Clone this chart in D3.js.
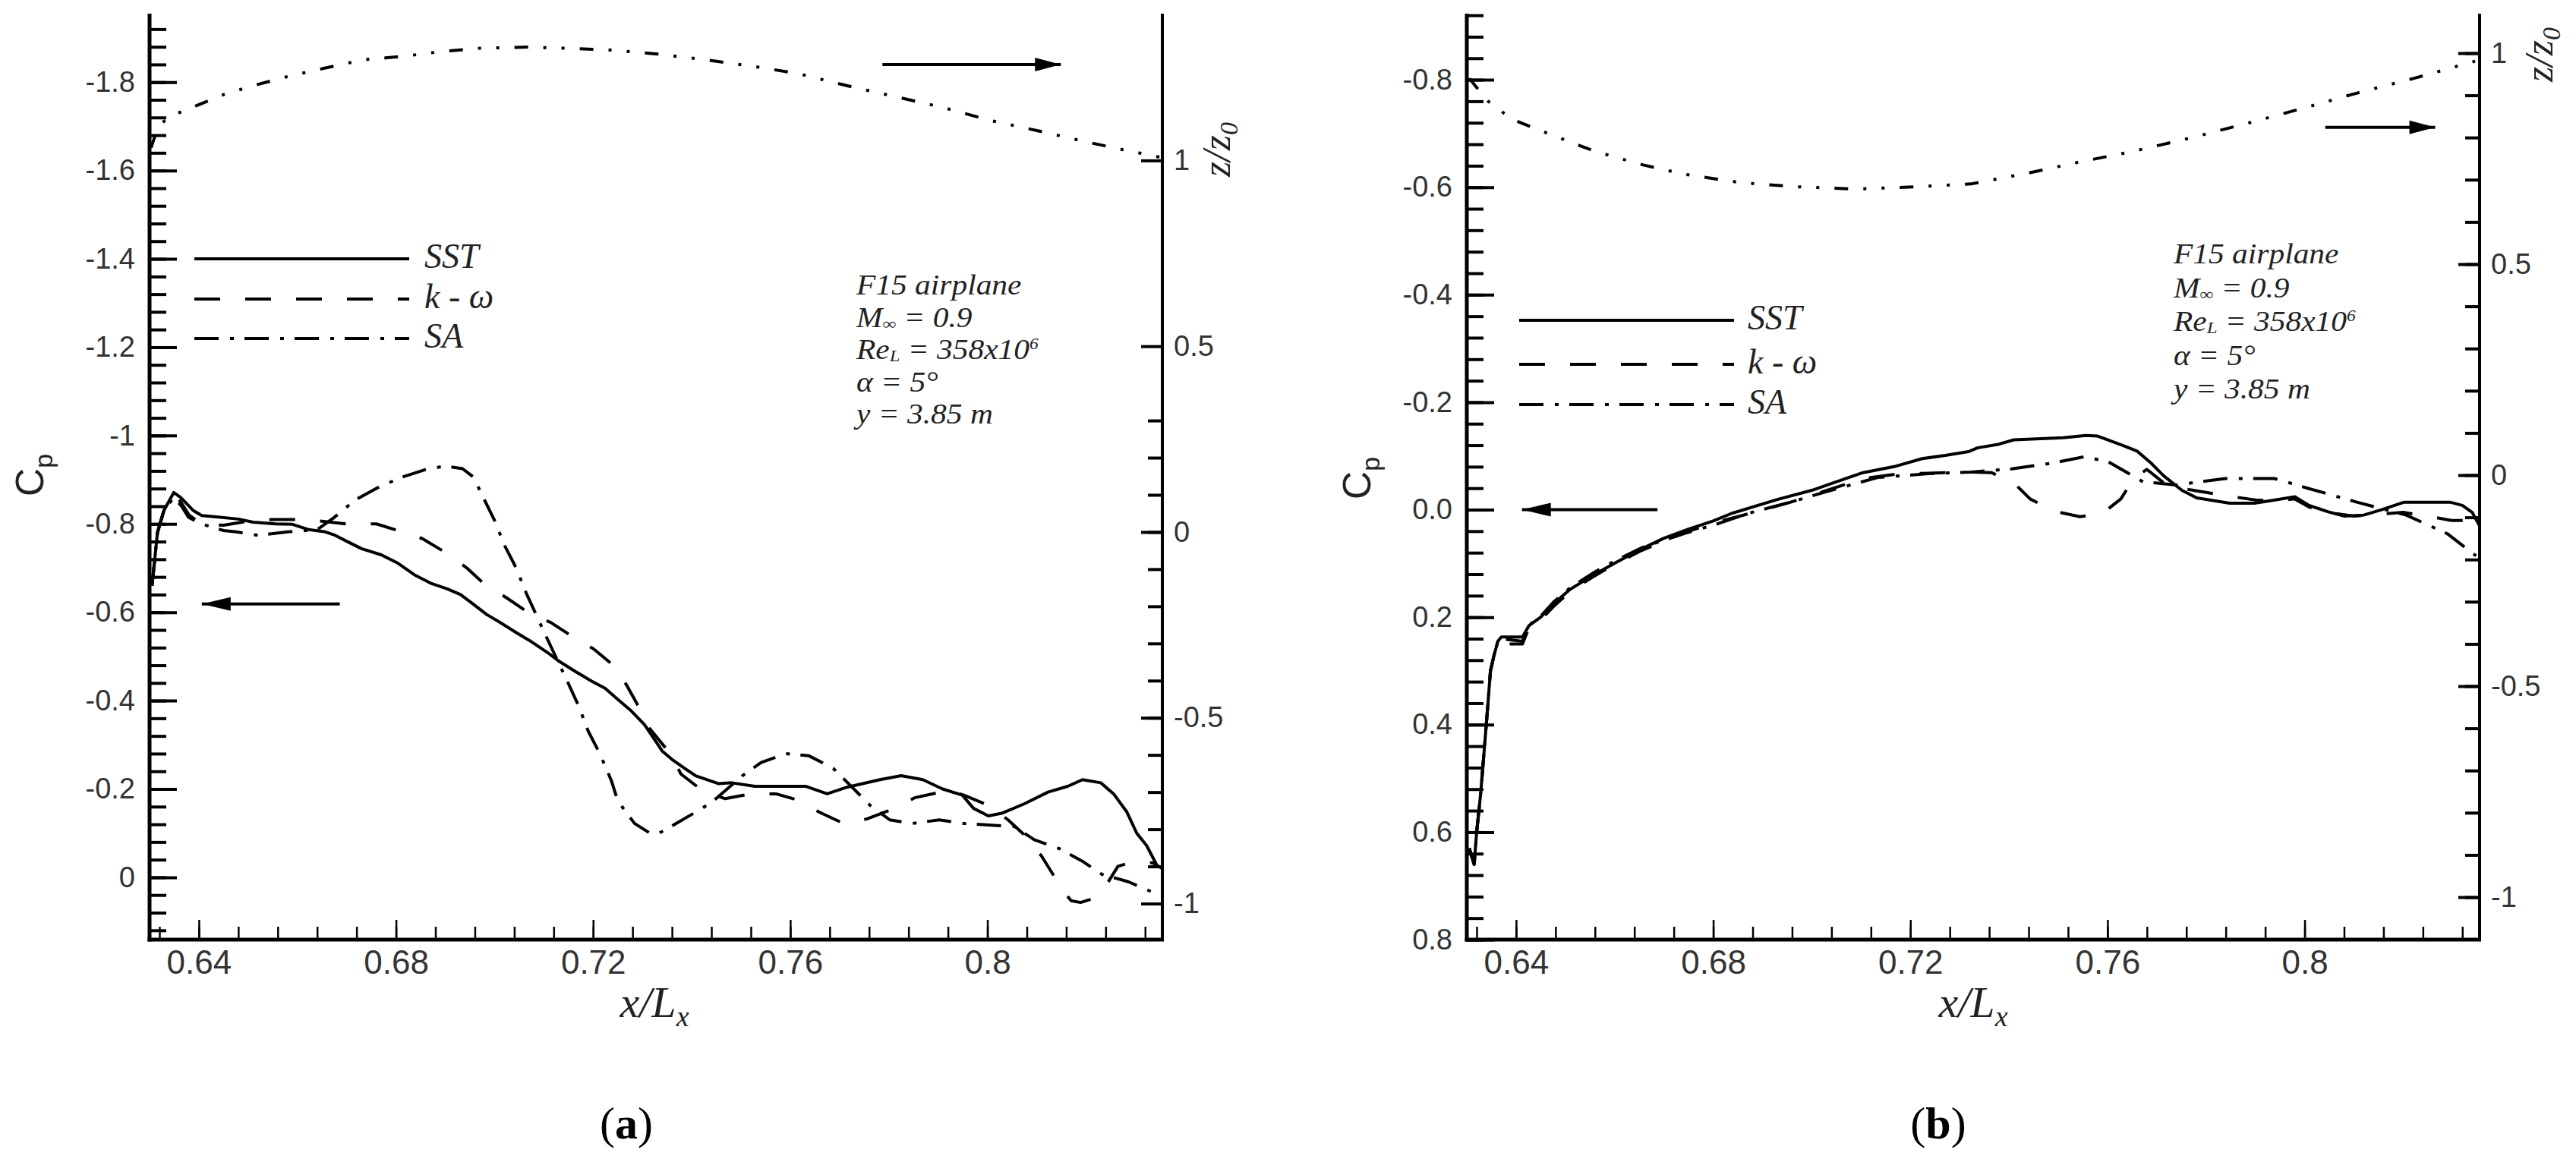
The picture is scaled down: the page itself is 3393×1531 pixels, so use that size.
<!DOCTYPE html>
<html>
<head>
<meta charset="utf-8">
<script src="https://cdn.jsdelivr.net/npm/d3@7"></script>
<style>
html, body { margin: 0; padding: 0; background: #fff; }
svg { display: block; }
.ital { font-family: "Liberation Serif", "Times New Roman", serif; font-style: italic; }
</style>
</head>
<body>
<svg id="chart" width="3393" height="1531"></svg>
<script>
/* TICKS AND LABELS */
var xTicks = [0.64, 0.68, 0.72, 0.76, 0.8];
var xLabels = ["0.64", "0.68", "0.72", "0.76", "0.8"];
var aCpTicks = [-1.8, -1.6, -1.4, -1.2, -1, -0.8, -0.6, -0.4, -0.2, 0];
var aCpLabels = ["-1.8", "-1.6", "-1.4", "-1.2", "-1", "-0.8", "-0.6", "-0.4", "-0.2", "0"];
var bCpTicks = [-0.8, -0.6, -0.4, -0.2, 0, 0.2, 0.4, 0.6, 0.8];
var bCpLabels = ["-0.8", "-0.6", "-0.4", "-0.2", "0.0", "0.2", "0.4", "0.6", "0.8"];
var zTicks = [-1, -0.5, 0, 0.5, 1];
var zLabels = ["-1", "-0.5", "0", "0.5", "1"];
var legendNames = ["SST", "k - \u03c9", "SA"];

/* PANEL (a) DATA : [x/Lx, Cp] AND [x/Lx, z/z0] */
var aSST = [[0.6305,-0.66],[0.6316,-0.78],[0.6329,-0.83],[0.6349,-0.871],[0.6363,-0.86],[0.6389,-0.83],[0.6406,-0.819],[0.6443,-0.815],[0.648,-0.811],[0.651,-0.804],[0.6556,-0.80],[0.659,-0.799],[0.6623,-0.787],[0.6657,-0.782],[0.6677,-0.774],[0.6703,-0.759],[0.673,-0.744],[0.677,-0.73],[0.6804,-0.711],[0.6837,-0.685],[0.687,-0.666],[0.6904,-0.653],[0.6931,-0.64],[0.6957,-0.618],[0.6984,-0.595],[0.7011,-0.577],[0.7044,-0.554],[0.7071,-0.536],[0.7091,-0.521],[0.7111,-0.506],[0.7131,-0.489],[0.7164,-0.466],[0.7197,-0.444],[0.7224,-0.428],[0.7251,-0.402],[0.7278,-0.376],[0.7304,-0.346],[0.7327,-0.308],[0.734,-0.286],[0.736,-0.267],[0.7388,-0.245],[0.7408,-0.23],[0.7455,-0.212],[0.7481,-0.214],[0.7528,-0.206],[0.7632,-0.206],[0.7675,-0.189],[0.7715,-0.204],[0.7782,-0.221],[0.7825,-0.230],[0.7869,-0.221],[0.7909,-0.200],[0.7949,-0.186],[0.7972,-0.156],[0.8002,-0.139],[0.8029,-0.145],[0.8076,-0.167],[0.8123,-0.193],[0.8163,-0.206],[0.8193,-0.221],[0.823,-0.214],[0.8256,-0.189],[0.8283,-0.148],[0.8303,-0.10],[0.8323,-0.072],[0.8345,-0.025]];
var aKW = [[0.6305,-0.66],[0.6316,-0.78],[0.6329,-0.83],[0.6349,-0.865],[0.6363,-0.85],[0.638,-0.82],[0.6405,-0.80],[0.645,-0.797],[0.65,-0.806],[0.655,-0.81],[0.66,-0.81],[0.665,-0.806],[0.67,-0.80],[0.676,-0.80],[0.6813,-0.782],[0.6853,-0.767],[0.6904,-0.733],[0.6944,-0.70],[0.6984,-0.659],[0.7024,-0.633],[0.7074,-0.595],[0.7114,-0.577],[0.7161,-0.543],[0.7201,-0.517],[0.7241,-0.48],[0.7268,-0.435],[0.7294,-0.383],[0.7314,-0.338],[0.736,-0.275],[0.7378,-0.234],[0.7421,-0.197],[0.7468,-0.178],[0.7521,-0.189],[0.7571,-0.189],[0.7618,-0.174],[0.7658,-0.148],[0.7708,-0.122],[0.7755,-0.132],[0.7812,-0.156],[0.7852,-0.18],[0.7922,-0.197],[0.7952,-0.186],[0.8002,-0.163],[0.8042,-0.13],[0.8079,-0.092],[0.811,-0.048],[0.8154,0.031],[0.817,0.053],[0.8189,0.057],[0.8212,0.049],[0.8242,0.016],[0.8265,-0.025],[0.829,-0.033],[0.8335,-0.033],[0.8355,-0.02]];
var aSA = [[0.6305,-0.66],[0.6316,-0.78],[0.6329,-0.83],[0.6349,-0.86],[0.6365,-0.84],[0.6379,-0.815],[0.6405,-0.80],[0.645,-0.785],[0.6476,-0.782],[0.652,-0.774],[0.658,-0.782],[0.664,-0.787],[0.6675,-0.815],[0.6717,-0.854],[0.6763,-0.882],[0.681,-0.905],[0.686,-0.923],[0.690,-0.931],[0.6935,-0.925],[0.6957,-0.906],[0.6977,-0.86],[0.700,-0.808],[0.702,-0.752],[0.7044,-0.70],[0.7064,-0.644],[0.7104,-0.547],[0.7148,-0.443],[0.7171,-0.387],[0.719,-0.331],[0.7214,-0.279],[0.7237,-0.219],[0.725,-0.173],[0.7284,-0.122],[0.7315,-0.10],[0.7331,-0.098],[0.7375,-0.126],[0.7421,-0.156],[0.7445,-0.174],[0.7503,-0.230],[0.7541,-0.260],[0.7591,-0.280],[0.7638,-0.275],[0.7687,-0.247],[0.7722,-0.208],[0.7762,-0.163],[0.7802,-0.130],[0.7848,-0.122],[0.7902,-0.130],[0.7952,-0.122],[0.8009,-0.118],[0.8055,-0.115],[0.8095,-0.085],[0.8146,-0.065],[0.8192,-0.037],[0.8232,-0.007],[0.8286,0.01],[0.8336,0.034]];
var aZ = [[0.6303,1.034],[0.6318,1.093],[0.6342,1.119],[0.6389,1.144],[0.6452,1.178],[0.6515,1.203],[0.6578,1.225],[0.6657,1.249],[0.6735,1.271],[0.6814,1.280],[0.6892,1.293],[0.6971,1.302],[0.7065,1.305],[0.7144,1.302],[0.7238,1.297],[0.7332,1.286],[0.7427,1.271],[0.7521,1.254],[0.7615,1.234],[0.7725,1.198],[0.7819,1.170],[0.7914,1.141],[0.8008,1.107],[0.8102,1.080],[0.8197,1.051],[0.8275,1.029],[0.8349,1.009]];

/* PANEL (b) DATA */
var bSST = [[0.6305,0.63],[0.6315,0.66],[0.632,0.60],[0.6328,0.53],[0.6336,0.44],[0.6343,0.36],[0.6348,0.30],[0.6355,0.272],[0.6363,0.245],[0.637,0.237],[0.6413,0.237],[0.6426,0.216],[0.645,0.20],[0.6476,0.175],[0.651,0.148],[0.6556,0.122],[0.6603,0.098],[0.665,0.075],[0.67,0.053],[0.675,0.036],[0.68,0.021],[0.6837,0.007],[0.693,-0.019],[0.700,-0.036],[0.7044,-0.050],[0.7104,-0.069],[0.7171,-0.081],[0.7224,-0.095],[0.7271,-0.101],[0.7318,-0.108],[0.7336,-0.115],[0.738,-0.122],[0.741,-0.13],[0.751,-0.134],[0.7556,-0.138],[0.758,-0.137],[0.763,-0.12],[0.766,-0.109],[0.7687,-0.088],[0.7714,-0.063],[0.7751,-0.036],[0.7781,-0.022],[0.7848,-0.012],[0.7898,-0.012],[0.794,-0.018],[0.798,-0.024],[0.8009,-0.008],[0.8048,0.004],[0.8081,0.012],[0.812,0.01],[0.8156,0.0],[0.8202,-0.014],[0.8295,-0.014],[0.832,-0.008],[0.834,0.005],[0.8355,0.03]];
var bKW = [[0.6305,0.63],[0.6315,0.66],[0.632,0.60],[0.6328,0.53],[0.6336,0.44],[0.6343,0.36],[0.6348,0.30],[0.6355,0.272],[0.6363,0.245],[0.637,0.25],[0.6413,0.25],[0.6426,0.22],[0.645,0.205],[0.6476,0.18],[0.651,0.152],[0.6556,0.125],[0.6603,0.10],[0.665,0.078],[0.67,0.058],[0.675,0.04],[0.68,0.025],[0.687,0.008],[0.6957,-0.014],[0.7024,-0.034],[0.7104,-0.058],[0.7171,-0.066],[0.7237,-0.068],[0.7313,-0.07],[0.7365,-0.069],[0.7412,-0.048],[0.7443,-0.02],[0.7493,0.003],[0.7544,0.013],[0.759,0.007],[0.7627,-0.02],[0.7655,-0.06],[0.768,-0.075],[0.7714,-0.05],[0.775,-0.04],[0.7781,-0.035],[0.7848,-0.025],[0.79,-0.018],[0.794,-0.016],[0.798,-0.02],[0.8009,-0.005],[0.8048,0.005],[0.81,0.012],[0.8156,0.008],[0.82,0.005],[0.825,0.012],[0.8298,0.02],[0.8355,0.02]];
var bSA = [[0.6305,0.63],[0.6315,0.66],[0.632,0.60],[0.6328,0.53],[0.6336,0.44],[0.6343,0.36],[0.6348,0.30],[0.6355,0.272],[0.6363,0.245],[0.637,0.24],[0.6413,0.245],[0.6426,0.215],[0.645,0.198],[0.6476,0.172],[0.651,0.145],[0.6556,0.118],[0.6603,0.094],[0.6657,0.07],[0.6683,0.062],[0.6743,0.044],[0.681,0.026],[0.687,0.007],[0.6957,-0.014],[0.7024,-0.032],[0.7134,-0.060],[0.7237,-0.067],[0.7324,-0.070],[0.7406,-0.076],[0.749,-0.087],[0.7556,-0.099],[0.7606,-0.087],[0.7672,-0.052],[0.7739,-0.046],[0.7839,-0.058],[0.7939,-0.058],[0.8006,-0.04],[0.8106,-0.014],[0.8206,0.01],[0.829,0.045],[0.8348,0.086]];
var bZ = [[0.6305,0.94],[0.6342,0.887],[0.6392,0.843],[0.6475,0.805],[0.6558,0.768],[0.6658,0.735],[0.6741,0.713],[0.6857,0.693],[0.6974,0.683],[0.709,0.678],[0.7207,0.683],[0.7323,0.69],[0.744,0.716],[0.7539,0.741],[0.7655,0.768],[0.7772,0.80],[0.7888,0.835],[0.8005,0.872],[0.8105,0.905],[0.8221,0.94],[0.8346,0.981]];

/* ARROWS : [x start, x end, value] */
var aArrowCp = [0.6406, 0.6686, -0.619];
var aArrowZ = [0.7787, 0.8149, 1.258];
var bArrowCp = [0.6412, 0.6687, 0.0];
var bArrowZ = [0.8042, 0.8265, 0.824];

var svg = d3.select("#chart");
var FONT = '"Liberation Sans", Arial, sans-serif';

var panels = [
  { id: "a", left: 197, right: 1531, top: 18, bottom: 1238,
    cpDomain: [0.141, -1.955], zDomain: [-1.097, 1.395],
    cpTicks: aCpTicks, cpLabels: aCpLabels,
    cpMinor: d3.range(52).map(function(i){ return -1.92 + i * 0.04; }),
    zMinor: d3.range(14).map(function(i){ return -1.0 + i * 0.1; }),
    series: [aSST, aKW, aSA], z: aZ, arrowCp: aArrowCp, arrowZ: aArrowZ,
    legend: { x0: 256, x1: 539, ys: [341, 394, 446], tx: 559 },
    note: { x: 1128, y0: 388, dy: 42.5 },
    cpTitle: [57, 626], zTitle: [1620, 233], xTitle: 862, sub: 825 },
  { id: "b", left: 1932, right: 3266, top: 18, bottom: 1238,
    cpDomain: [0.8, -0.923], zDomain: [-1.1007, 1.0935],
    cpTicks: bCpTicks, cpLabels: bCpLabels,
    cpMinor: d3.range(44).map(function(i){ return -0.92 + i * 0.04; }),
    zMinor: d3.range(21).map(function(i){ return -1.0 + i * 0.1; }),
    series: [bSST, bKW, bSA], z: bZ, arrowCp: bArrowCp, arrowZ: bArrowZ,
    legend: { x0: 2001, x1: 2284, ys: [422, 480, 533], tx: 2302 },
    note: { x: 2863, y0: 347, dy: 44.5 },
    cpTitle: [1805, 630], zTitle: [3362, 108], xTitle: 2599, sub: 2553 }
];

var dashes = [null, "34 33", "32 15 5 14"];
var zDash = "18 20 4 20 4 20";

panels.forEach(function(p) {
  var x = d3.scaleLinear().domain([0.63, 0.8355]).range([p.left, p.right]);
  var yL = d3.scaleLinear().domain(p.cpDomain).range([p.bottom, p.top]);
  var yR = d3.scaleLinear().domain(p.zDomain).range([p.bottom, p.top]);
  var g = svg.append("g").attr("id", "panel-" + p.id);

  /* MINOR AND MAJOR TICKS, INWARD */
  function styleAxis(sel, w, fs) {
    sel.select(".domain").remove();
    sel.selectAll("line").attr("stroke", "#000").attr("stroke-width", w);
    sel.selectAll("text").attr("fill", "#333").attr("font-size", fs).attr("font-family", FONT);
  }
  var xMinor = d3.range(26).map(function(i){ return 0.632 + i * 0.008; });

  g.append("g").attr("transform", "translate(" + p.left + ",0)")
    .call(d3.axisLeft(yL).tickValues(p.cpMinor).tickSize(-22).tickSizeOuter(0).tickFormat(""))
    .call(styleAxis, 4, 38);
  g.append("g").attr("transform", "translate(" + p.left + ",0)")
    .call(d3.axisLeft(yL).tickValues(p.cpTicks).tickSize(-36).tickSizeOuter(0).tickPadding(19)
      .tickFormat(function(d, i){ return p.cpLabels[i]; }))
    .call(styleAxis, 4, 38);

  g.append("g").attr("transform", "translate(" + p.right + ",0)")
    .call(d3.axisRight(yR).tickValues(p.zMinor).tickSize(-19).tickSizeOuter(0).tickFormat(""))
    .call(styleAxis, 4, 38);
  g.append("g").attr("transform", "translate(" + p.right + ",0)")
    .call(d3.axisRight(yR).tickValues(zTicks).tickSize(-28).tickSizeOuter(0).tickPadding(15)
      .tickFormat(function(d, i){ return zLabels[i]; }))
    .call(styleAxis, 4, 38);

  g.append("g").attr("transform", "translate(0," + p.bottom + ")")
    .call(d3.axisBottom(x).tickValues(xMinor).tickSize(-17).tickSizeOuter(0).tickFormat(""))
    .call(styleAxis, 2.5, 44);
  g.append("g").attr("transform", "translate(0," + p.bottom + ")")
    .call(d3.axisBottom(x).tickValues(xTicks).tickSize(-26).tickSizeOuter(0).tickPadding(14)
      .tickFormat(function(d, i){ return xLabels[i]; }))
    .call(styleAxis, 2.5, 44);

  /* FRAME: LEFT, BOTTOM, RIGHT (NO TOP) */
  g.append("line").attr("x1", p.left).attr("x2", p.left).attr("y1", p.top).attr("y2", p.bottom + 2.5)
    .attr("stroke", "#000").attr("stroke-width", 5);
  g.append("line").attr("x1", p.left - 2.5).attr("x2", p.right + 2).attr("y1", p.bottom).attr("y2", p.bottom)
    .attr("stroke", "#000").attr("stroke-width", 5);
  g.append("line").attr("x1", p.right).attr("x2", p.right).attr("y1", p.top).attr("y2", p.bottom)
    .attr("stroke", "#000").attr("stroke-width", 4);

  /* CURVES */
  g.append("clipPath").attr("id", "clip-" + p.id).append("rect")
    .attr("x", p.left).attr("y", p.top).attr("width", p.right - p.left).attr("height", p.bottom - p.top);
  var plot = g.append("g").attr("clip-path", "url(#clip-" + p.id + ")");
  var lineCp = d3.line().x(function(d){ return x(d[0]); }).y(function(d){ return yL(d[1]); });
  var lineZ = d3.line().x(function(d){ return x(d[0]); }).y(function(d){ return yR(d[1]); });

  p.series.forEach(function(s, i) {
    plot.append("path").datum(s).attr("d", lineCp)
      .attr("fill", "none").attr("stroke", "#000").attr("stroke-width", 4)
      .attr("stroke-linejoin", "round").attr("stroke-dasharray", dashes[i]);
  });
  plot.append("path").datum(p.z).attr("d", lineZ)
    .attr("fill", "none").attr("stroke", "#000").attr("stroke-width", 4)
    .attr("stroke-dasharray", zDash);

  /* ARROWS */
  function arrow(a, ys, toLeft) {
    var x0 = x(a[0]), x1 = x(a[1]), yy = ys(a[2]);
    g.append("line").attr("x1", x0).attr("x2", x1).attr("y1", yy).attr("y2", yy)
      .attr("stroke", "#000").attr("stroke-width", 4);
    var tip = toLeft ? x0 : x1, base = toLeft ? x0 + 38 : x1 - 34;
    g.append("path").attr("d", "M" + tip + "," + yy + "L" + base + "," + (yy - 9) + "L" + base + "," + (yy + 9) + "Z")
      .attr("fill", "#000");
  }
  arrow(p.arrowCp, yL, true);
  arrow(p.arrowZ, yR, false);

  /* LEGEND */
  p.legend.ys.forEach(function(ly, i) {
    g.append("line").attr("x1", p.legend.x0).attr("x2", p.legend.x1).attr("y1", ly).attr("y2", ly)
      .attr("stroke", "#000").attr("stroke-width", 4).attr("stroke-dasharray", dashes[i]);
    var t = g.append("text").attr("class", "ital").attr("x", p.legend.tx).attr("y", ly + 12)
      .attr("font-size", 46).attr("fill", "#222");
    if (i === 1) {
      t.append("tspan").text("k");
      t.append("tspan").attr("font-style", "normal").text(" - ");
      t.append("tspan").text("\u03c9");
    } else {
      t.text(legendNames[i]);
    }
  });

  /* CASE NOTE (slightly widened so the lines keep the reference width) */
  var n = p.note;
  function noteLine(k) {
    return g.append("text").attr("class", "ital")
      .attr("transform", "translate(" + n.x + "," + (n.y0 + k * n.dy) + ") scale(1.12,1)")
      .attr("font-size", 37).attr("fill", "#222");
  }
  noteLine(0).text("F15 airplane");
  var l2 = noteLine(1);
  l2.append("tspan").text("M");
  l2.append("tspan").attr("font-size", 22).attr("dy", 3).text("\u221e");
  l2.append("tspan").attr("dy", -3).text(" = 0.9");
  var l3 = noteLine(2);
  l3.append("tspan").text("Re");
  l3.append("tspan").attr("font-size", 22).attr("dy", 3).text("L");
  l3.append("tspan").attr("dy", -3).text(" = 358x10");
  l3.append("tspan").attr("font-size", 21).attr("dy", -13).text("6");
  noteLine(3).text("\u03b1 = 5\u00b0");
  noteLine(4).text("y = 3.85 m");

  /* AXIS TITLES */
  var cp = g.append("text").attr("transform", "translate(" + p.cpTitle[0] + "," + p.cpTitle[1] + ") rotate(-90)")
    .attr("text-anchor", "middle").attr("font-family", FONT).attr("font-size", 52).attr("fill", "#222");
  cp.append("tspan").text("C");
  cp.append("tspan").attr("font-size", 34).attr("dy", 12).text("p");

  var zt = g.append("text").attr("class", "ital")
    .attr("transform", "translate(" + p.zTitle[0] + "," + p.zTitle[1] + ") rotate(-90)")
    .attr("font-size", 52).attr("fill", "#222");
  zt.append("tspan").text("z/z");
  zt.append("tspan").attr("font-size", 34).attr("dy", 10).text("0");

  var xt = g.append("text").attr("class", "ital").attr("x", p.xTitle).attr("y", 1340)
    .attr("text-anchor", "middle").attr("font-size", 58).attr("fill", "#222");
  xt.append("tspan").text("x/L");
  xt.append("tspan").attr("font-size", 38).attr("dy", 12).text("x");

  /* SUBFIGURE LABEL */
  var sl = g.append("text").attr("x", p.sub).attr("y", 1500).attr("text-anchor", "middle")
    .attr("font-family", '"Liberation Serif", "Times New Roman", serif').attr("font-size", 60).attr("fill", "#000");
  sl.append("tspan").text("(");
  sl.append("tspan").attr("font-weight", "bold").text(p.id);
  sl.append("tspan").text(")");
});
</script>
</body>
</html>
